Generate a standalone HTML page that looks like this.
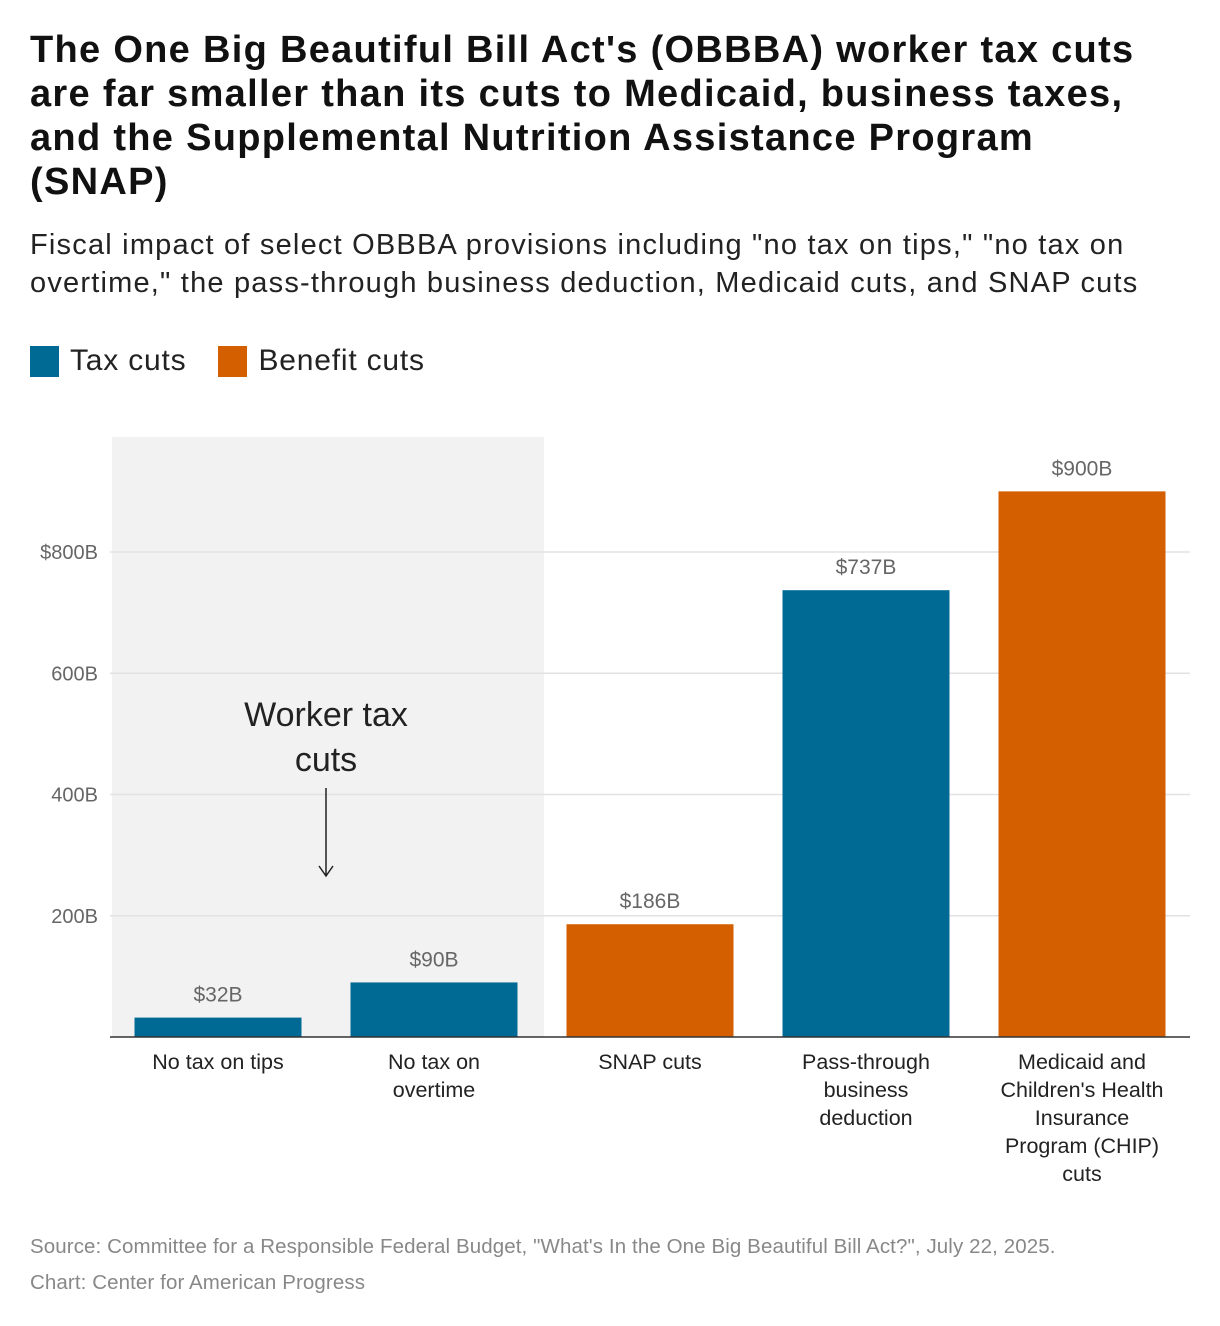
<!DOCTYPE html>
<html><head><meta charset="utf-8">
<style>
body{margin:0;background:#fff;font-family:"Liberation Sans",Arial,sans-serif;}
#wrap{position:relative;width:1220px;height:1326px;overflow:hidden;}
h1{position:absolute;left:30px;top:28px;margin:0;font-size:38px;line-height:44px;font-weight:bold;color:#111;width:1190px;white-space:nowrap;letter-spacing:1.3px}
#sub{position:absolute;left:30px;top:226px;font-size:29px;line-height:38px;color:#222;width:1190px;white-space:nowrap;letter-spacing:1.2px}
#legend{position:absolute;left:30px;top:344px;font-size:30px;color:#222;display:flex;align-items:center;letter-spacing:0.8px}
.sw{width:29px;height:31px;display:inline-block;margin-right:11px}
#src{position:absolute;left:30px;top:1229px;font-size:20.5px;line-height:36px;color:#888;letter-spacing:0.1px}
</style></head><body>
<div id="wrap">
<h1>The One Big Beautiful Bill Act's (OBBBA) worker tax cuts<br>are far smaller than its cuts to Medicaid, business taxes,<br>and the Supplemental Nutrition Assistance Program<br>(SNAP)</h1>
<div id="sub">Fiscal impact of select OBBBA provisions including "no tax on tips," "no tax on<br>overtime," the pass-through business deduction, Medicaid cuts, and SNAP cuts</div>
<div id="legend">
<span class="sw" style="background:#006994"></span><span style="margin-right:32px">Tax cuts</span>
<span class="sw" style="background:#d35f00"></span><span>Benefit cuts</span>
</div>
<svg id="chart" width="1220" height="1326" style="position:absolute;left:0;top:0"></svg>
<div id="src">Source: Committee for a Responsible Federal Budget, "What's In the One Big Beautiful Bill Act?", July 22, 2025.<br>Chart: Center for American Progress</div>
</div>
<script>
const categories=[["No tax on tips"],["No tax on","overtime"],["SNAP cuts"],["Pass-through","business","deduction"],["Medicaid and","Children's Health","Insurance","Program (CHIP)","cuts"]];
const values=[32,90,186,737,900];
const valueLabels=["$32B","$90B","$186B","$737B","$900B"];
const types=["tax","tax","benefit","tax","benefit"];
const ticks=[200,400,600,800];
const tickLabels=["200B","400B","600B","$800B"];
const NS="http://www.w3.org/2000/svg";
const svg=document.getElementById('chart');
const x0=110,x1=1190,y0=1037,pxPer=485/800;
const band=(x1-x0)/categories.length,bw=167;
const y=v=>y0-v*pxPer;
const xc=i=>x0+band*(i+0.5);
function mk(t,a){const e=document.createElementNS(NS,t);for(const k in a)e.setAttribute(k,a[k]);svg.appendChild(e);return e;}
const shade=mk('rect',{x:112,y:437,width:432,height:y0-437,fill:'#f2f2f2'});


ticks.forEach((t,i)=>{
 const g=mk('line',{x1:x0,x2:x1,y1:y(t),y2:y(t),stroke:'#e2e2e2','stroke-width':1.5});
 
 
 const l=mk('text',{x:98,y:y(t)+7,'text-anchor':'end','font-size':20,fill:'#666'});
 l.textContent=tickLabels[i];
 
 
});
values.forEach((v,i)=>{
 const r=mk('rect',{x:xc(i)-bw/2,y:y(v),width:bw,height:y0-y(v),fill:types[i]==='tax'?'#006994':'#d35f00'});
 
 
 const t=mk('text',{x:xc(i),y:y(v)-16,'text-anchor':'middle','font-size':21,fill:'#666'});
 t.textContent=valueLabels[i];
 
 
 categories[i].forEach((ln,j)=>{
  const c=mk('text',{x:xc(i),y:1069+j*28,'text-anchor':'middle','font-size':21.5,fill:'#222'});
  c.textContent=ln;
  
  
 });
});
const ax=mk('line',{x1:x0,x2:x1,y1:y0,y2:y0,stroke:'#333','stroke-width':1.5});


["Worker tax","cuts"].forEach((s,j)=>{
 const a=mk('text',{x:326,y:726+j*45,'text-anchor':'middle','font-size':34,fill:'#222'});
 a.textContent=s;
 
 
});
const ar=mk('path',{d:'M326 788 V876 M319 866 L326 876 L333 866',stroke:'#222','stroke-width':1.5,fill:'none'});


</script>
</body></html>
